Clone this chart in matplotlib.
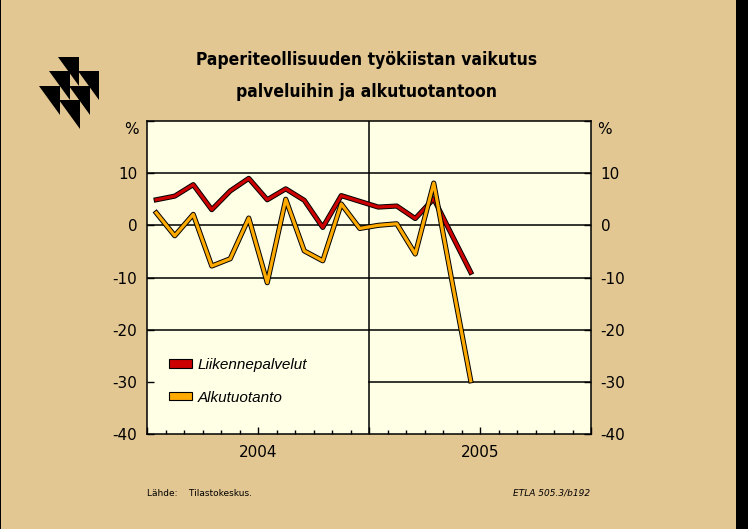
"""Paper industry strike impact chart (matplotlib Agg backend)."""

import matplotlib

matplotlib.use("Agg")
import matplotlib.pyplot as plt
import matplotlib.patheffects as pe
import numpy as np
from matplotlib.patches import Patch, Polygon, Rectangle

_BG = "#E3C793"
_PLOT_BG = "#FFFFE6"
_RED = "#CC0000"
_ORANGE = "#FFAA00"

# Monthly change, %, Jan 2004 .. Jun 2005
months = np.arange(18)
liikennepalvelut = [4.9, 5.6, 7.8, 3.0, 6.6, 9.0, 4.9, 7.0, 4.8, -0.4, 5.7, 4.6,
                    3.5, 3.7, 1.3, 5.1, -2.0, -9.0]
alkutuotanto = [2.4, -2.0, 2.1, -7.8, -6.4, 1.4, -11.0, 5.0, -4.9, -6.8, 4.1, -0.6,
                0.0, 0.3, -5.5, 8.1, -11.0, -29.8]
series_names = ["Liikennepalvelut", "Alkutuotanto"]
year_labels = ["2004", "2005"]
y_ticks = [-40, -30, -20, -10, 0, 10, 20]

W, H = 748, 529
fig = plt.figure(figsize=(W / 100, H / 100), dpi=100)
fig.patch.set_facecolor(_BG)


def px(x, y):
    return x / W, 1 - y / H


# frame edges of the original export
fig.add_artist(Rectangle(px(736, 529), 12 / W, 1, transform=fig.transFigure,
                         color="black", lw=0))
fig.add_artist(Rectangle((0, 0), 1.2 / W, 1, transform=fig.transFigure,
                         color="black", lw=0))

# logo: stacked down-pointing triangles
for lx, ly in [(58, 57), (49, 71), (78, 71), (39, 86), (69, 86), (59, 100)]:
    verts = [px(lx, ly), px(lx + 21, ly), px(lx + 21, ly + 29)]
    fig.add_artist(Polygon(verts, closed=True, transform=fig.transFigure,
                           facecolor="black", edgecolor="none"))

title_kw = dict(ha="center", va="center", fontsize=12.5, fontweight="bold",
                family="DejaVu Sans", fontstretch="condensed")
fig.text(*px(367, 60), "Paperiteollisuuden työkiistan vaikutus", **title_kw)
fig.text(*px(367, 92), "palveluihin ja alkutuotantoon", **title_kw)

l, r, t, b = 147, 591, 121, 434
ax = fig.add_axes([l / W, 1 - b / H, (r - l) / W, (b - t) / H])
ax.set_facecolor(_PLOT_BG)
for s in ax.spines.values():
    s.set_color("black")
    s.set_linewidth(1.1)

ax.set_xlim(0, 24)
ax.set_ylim(-40, 20)

for v in [10, 0, -10, -20]:
    ax.axhline(v, color="black", lw=1.1, zorder=1)
ax.axhline(-30, xmin=0.5, color="black", lw=1.1, zorder=1)
ax.axvline(12, color="black", lw=1.1, zorder=1)

x = months + 0.5
outline = [pe.Stroke(linewidth=3.7, foreground="black"), pe.Normal()]
ax.plot(x, liikennepalvelut, color=_RED, lw=2.3, zorder=3, path_effects=outline)
ax.plot(x, alkutuotanto, color=_ORANGE, lw=2.3, zorder=4, path_effects=outline)

ax.set_yticks(y_ticks)
ax.set_yticklabels([str(v) for v in y_ticks[:-1]] + [""])
ax.tick_params(axis="y", direction="in", length=5, width=1, left=True,
               right=True, labelleft=True, labelright=True, labelsize=11, pad=7)
ax.set_xticks([0, 6, 12, 18, 24])
ax.set_xticklabels(["", year_labels[0], "", year_labels[1], ""])
ax.set_xticks(np.arange(25), minor=True)
ax.tick_params(axis="x", which="major", direction="in", length=5, width=1,
               labelsize=11, pad=8)
ax.tick_params(axis="x", which="minor", direction="in", length=3, width=1)

fig.text(*px(131, 129), "%", ha="center", va="center", fontsize=11)
fig.text(*px(604, 129), "%", ha="center", va="center", fontsize=11)

handles = [Patch(facecolor=_RED, edgecolor="black", lw=0.8),
           Patch(facecolor=_ORANGE, edgecolor="black", lw=0.8)]
ax.legend(handles, series_names, loc="upper left", bbox_to_anchor=(0.019, 0.286),
          frameon=False, handlelength=1.5, handleheight=0.5, handletextpad=0.35,
          labelspacing=1.2,
          prop={"size": 11, "style": "italic", "family": "Liberation Sans"})

fig.text(*px(147, 493), "Lähde:    Tilastokeskus.", ha="left", va="center",
         fontsize=6.5)
fig.text(*px(590, 493), "ETLA 505.3/b192", ha="right", va="center",
         fontsize=6.5, style="italic")

fig.savefig("out.png", dpi=100, facecolor=fig.get_facecolor())
